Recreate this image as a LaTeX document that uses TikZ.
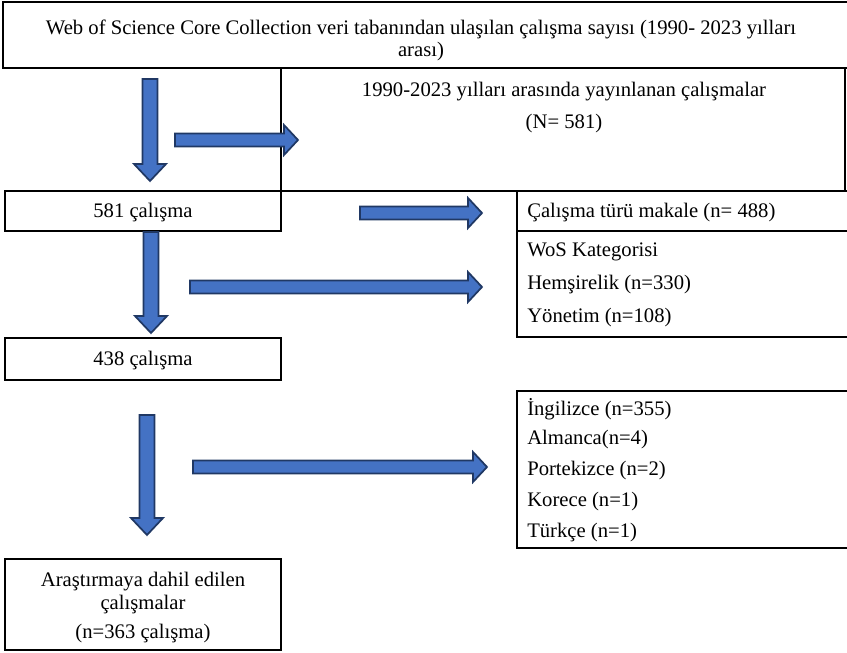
\documentclass[tikz,border=0pt]{standalone}
\usepackage{fontspec}
\setmainfont{Liberation Serif}
\definecolor{arrfill}{HTML}{4472C4}
\definecolor{arrdraw}{HTML}{203864}
\tikzset{
  boxline/.style={draw=black, line width=1.4pt},
  thinline/.style={draw=black, line width=0.8pt},
  blockarr/.style={fill=arrfill, draw=arrdraw, line width=1.3pt, line join=miter},
  txt/.style={inner sep=0pt, font=\fontsize{15.5}{18}\selectfont},
  ltxt/.style={txt, anchor=west},
}
% right-pointing block arrow: x start, x tip, y centre
\newcommand\rblock[3]{%
  \draw[blockarr] (#1,#3-6.5) -- (#2-14,#3-6.5) -- (#2-14,#3-15) -- (#2,#3) -- (#2-14,#3+15) -- (#2-14,#3+6.5) -- (#1,#3+6.5) -- cycle;}
% down-pointing block arrow: x centre, y start, y tip
\newcommand\dblock[3]{%
  \draw[blockarr] (#1-7.5,#2) -- (#1+7.5,#2) -- (#1+7.5,#3-17) -- (#1+16,#3-17) -- (#1,#3) -- (#1-16,#3-17) -- (#1-7.5,#3-17) -- cycle;}
\begin{document}
\begin{tikzpicture}[x=0.75pt,y=-0.75pt]
\useasboundingbox (0,0) rectangle (847,653);
% boxes
\draw[boxline] (3,2) rectangle (852,68);
\draw[thinline] (281,68) -- (281,191);
\draw[boxline] (281,191) -- (845,191) -- (845,68);
\draw[boxline] (5,191) rectangle (281,231);
\draw[boxline] (517,191) rectangle (852,231);
\draw[boxline] (517,231) rectangle (852,337);
\draw[boxline] (5,338) rectangle (281,380);
\draw[boxline] (517,391) rectangle (852,548);
\draw[boxline] (5,559) rectangle (281,650);
% texts
\node[txt] (t1) at (421,29) {Web of Science Core Collection veri tabanından ulaşılan çalışma sayısı (1990- 2023 yılları};
\node[txt] (t1b) at (421,52) {arası)};
\node[txt] (t2) at (564,92) {1990-2023 yılları arasında yayınlanan çalışmalar};
\node[txt] (t2b) at (564,124) {(N= 581)};
\node[txt] (t3) at (143,213) {581 çalışma};
\node[ltxt] (t4) at (527,213) {Çalışma türü makale (n= 488)};
\node[ltxt] (t5) at (527,252) {WoS Kategorisi};
\node[ltxt] (t5b) at (527,285) {Hemşirelik (n=330)};
\node[ltxt] (t5c) at (527,318) {Yönetim (n=108)};
\node[txt] (t6) at (143,361) {438 çalışma};
\node[ltxt] (t7) at (527,409) {İngilizce (n=355)};
\node[ltxt] (t7b) at (527,440) {Almanca(n=4)};
\node[ltxt] (t7c) at (527,471) {Portekizce (n=2)};
\node[ltxt] (t7d) at (527,502) {Korece (n=1)};
\node[ltxt] (t7e) at (527,533) {Türkçe (n=1)};
\node[txt] (t8) at (143,582) {Araştırmaya dahil edilen};
\node[txt] (t8b) at (143,605) {çalışmalar};
\node[txt] (t8c) at (143,634) {(n=363 çalışma)};
% block arrows
\dblock{150}{79}{181}
\rblock{175}{298}{140}
\rblock{360}{482}{213}
\dblock{151}{232}{333}
\rblock{190}{482}{287}
\dblock{147}{415}{535}
\rblock{193}{487}{467}
\end{tikzpicture}
\end{document}
